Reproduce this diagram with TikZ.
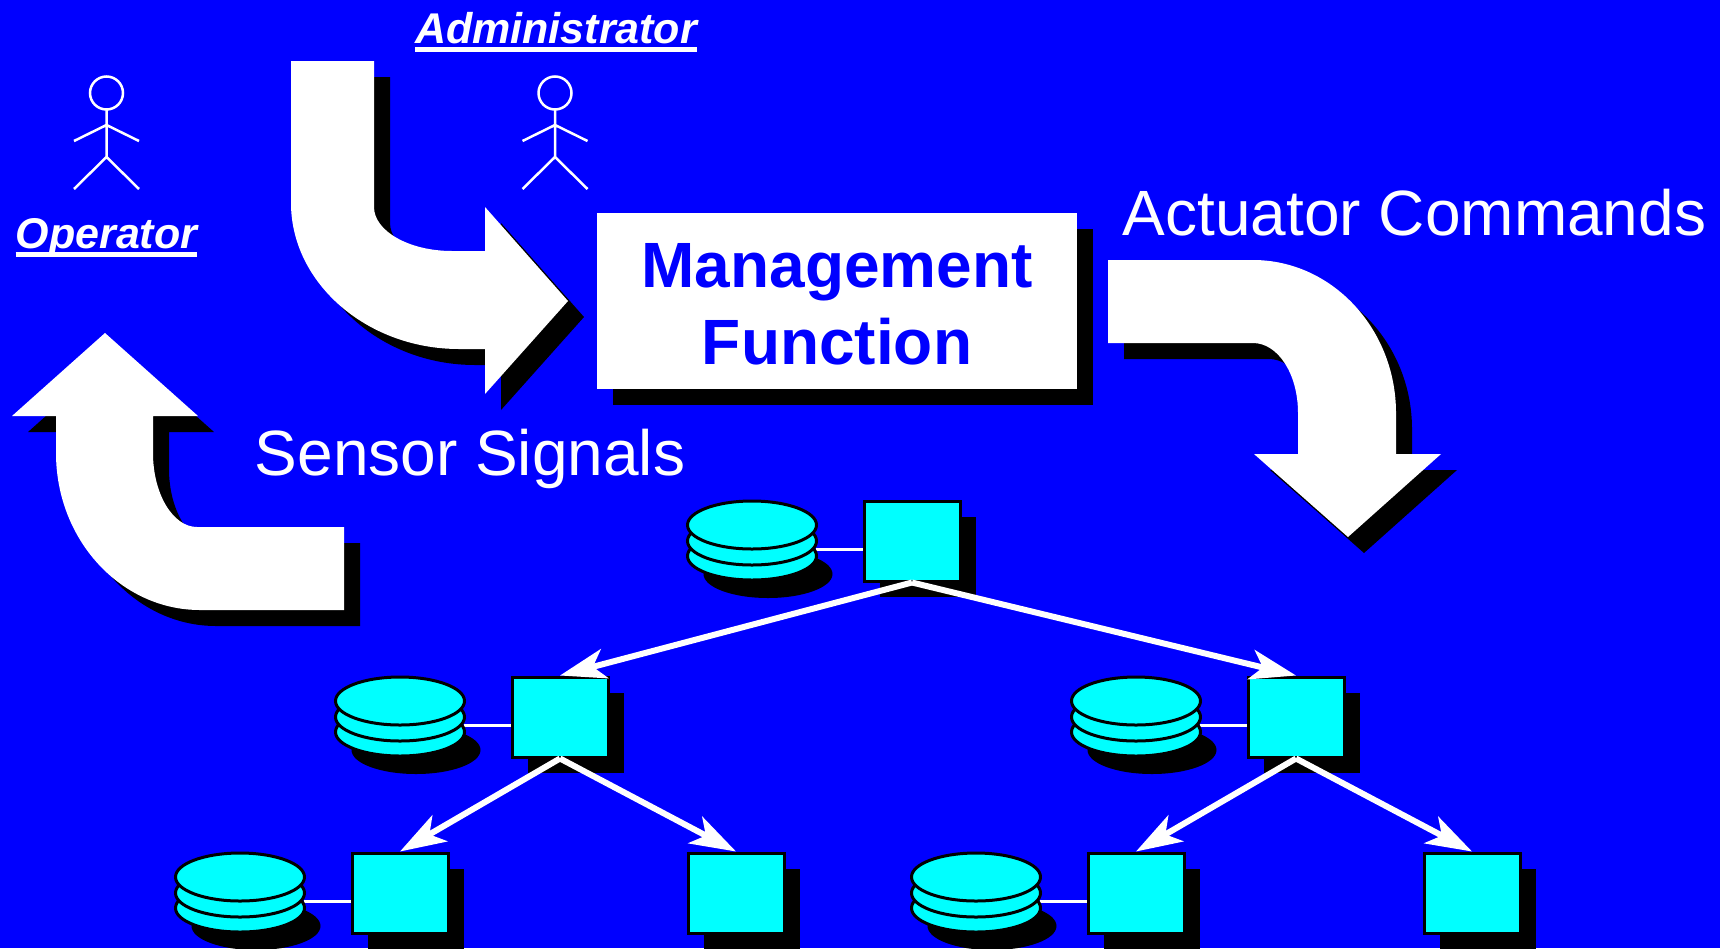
\documentclass[tikz,border=0pt]{standalone}
\usepackage{fontspec}
\setmainfont{Liberation Sans}
\usepackage{tikz}
\usetikzlibrary{arrows.meta}
\usetikzlibrary{shadows}
\usetikzlibrary{shapes.geometric}
\definecolor{slideblue}{RGB}{0,0,255}
\definecolor{nodecyan}{RGB}{0,255,255}
\newcommand{\ulabel}[1]{\setbox0\hbox{#1}\rlap{\rule[-9pt]{\wd0}{5pt}}\box0}
\tikzset{
  blackshadow/.style={drop shadow={shadow xshift=16pt,shadow yshift=-16pt,opacity=1,fill=black}},
  big arrow/.style={fill=white,blackshadow},
  square node/.style={rectangle,draw=black,line width=3pt,fill=nodecyan,minimum width=96pt,minimum height=80pt,blackshadow},
  disk node/.style={ellipse,draw=black,line width=3pt,fill=nodecyan,minimum width=129pt,minimum height=48pt,inner sep=0pt},
  disk shadow/.style={ellipse,fill=black,minimum width=129pt,minimum height=48pt,inner sep=0pt},
  tree edge/.style={draw=white,line width=6pt,-{Stealth[length=46pt,width=30pt,inset=12pt]}},
  disk edge/.style={draw=white,line width=3pt},
  big label/.style={text=white,font=\fontsize{64}{77}\selectfont},
  role label/.style={text=white,font=\fontsize{43}{50}\selectfont\bfseries\itshape},
  actor/.pic={
    \draw[white,line width=2.5pt] (0,-32) circle (16.5);
    \draw[white,line width=2.5pt] (0,-16) -- (0,32) (-32.5,16) -- (0,0) -- (32.5,16) (-32.5,64) -- (0,32) -- (32.5,64);
  }
}
\begin{document}
\begin{tikzpicture}[x=1pt,y=-1pt]
  \fill[slideblue] (0,0) rectangle (1720,948);
  \useasboundingbox (0,0) rectangle (1720,948);

  % wide arrows
  \path[big arrow] (291,61) -- (374,61) -- (374,207) .. controls (374,231) and (409,251) .. (452,251) -- (485,251) -- (485,207) -- (568,301) -- (485,394) -- (485,349) -- (459,349) .. controls (367,349) and (291,283) .. (291,203) -- cycle;
  \path[big arrow] (105,333) -- (198,416) -- (153,416) -- (153,453) .. controls (153,494) and (173,527) .. (197,527) -- (344,527) -- (344,610) -- (200,610) .. controls (121,610) and (56,540) .. (56,453) -- (56,416) -- (12,416) -- cycle;
  \path[big arrow] (1108,260) -- (1253,260) .. controls (1332,260) and (1396,329) .. (1396,413) -- (1396,454) -- (1441,454) -- (1348,537) -- (1254,454) -- (1298,454) -- (1298,413) .. controls (1298,374) and (1278,343) .. (1253,343) -- (1108,343) -- cycle;

  \node[fill=white,minimum width=480pt,minimum height=176pt,blackshadow,align=center,text=slideblue,font=\fontsize{64}{77}\selectfont\bfseries] (mgmt) at (837,301) {\rule{0pt}{50pt}Management\\Function};

  \node[big label,anchor=base] (actuator) at (1414.5,235) {Actuator Commands};
  \node[big label,anchor=base] (sensor) at (470,475) {Sensor Signals};
  \node[role label,anchor=base] (admin) at (556,43) {\ulabel{Administrator}};
  \node[role label,anchor=base] (oper) at (106.5,248) {\ulabel{Operator}};

  \pic at (106.5,125) {actor};
  \pic at (555,125) {actor};

  % tree of managers
  \foreach \nm/\cx/\cy in {top/912/541,left/560/717,right/1296/717,ll/400/893,rl/1136/893}{
    \node[disk shadow] (\nm shadow) at (\cx-144,\cy+33) {};
    \draw[disk edge] (\cx-96,\cy+8) -- (\cx-48,\cy+8);
    \node[disk node] (\nm low) at (\cx-160,\cy+15) {};
    \node[disk node] (\nm mid) at (\cx-160,\cy) {};
    \node[disk node] (\nm disk) at (\cx-160,\cy-16) {};
  }
  \node[square node] (top) at (912,541) {};
  \node[square node] (left) at (560,717) {};
  \node[square node] (right) at (1296,717) {};
  \node[square node] (ll) at (400,893) {};
  \node[square node] (lr) at (736,893) {};
  \node[square node] (rl) at (1136,893) {};
  \node[square node] (rr) at (1472,893) {};

  \draw[tree edge] (top.south) -- (left.north);
  \draw[tree edge] (top.south) -- (right.north);
  \draw[tree edge] (left.south) -- (ll.north);
  \draw[tree edge] (left.south) -- (lr.north);
  \draw[tree edge] (right.south) -- (rl.north);
  \draw[tree edge] (right.south) -- (rr.north);
\end{tikzpicture}
\end{document}
